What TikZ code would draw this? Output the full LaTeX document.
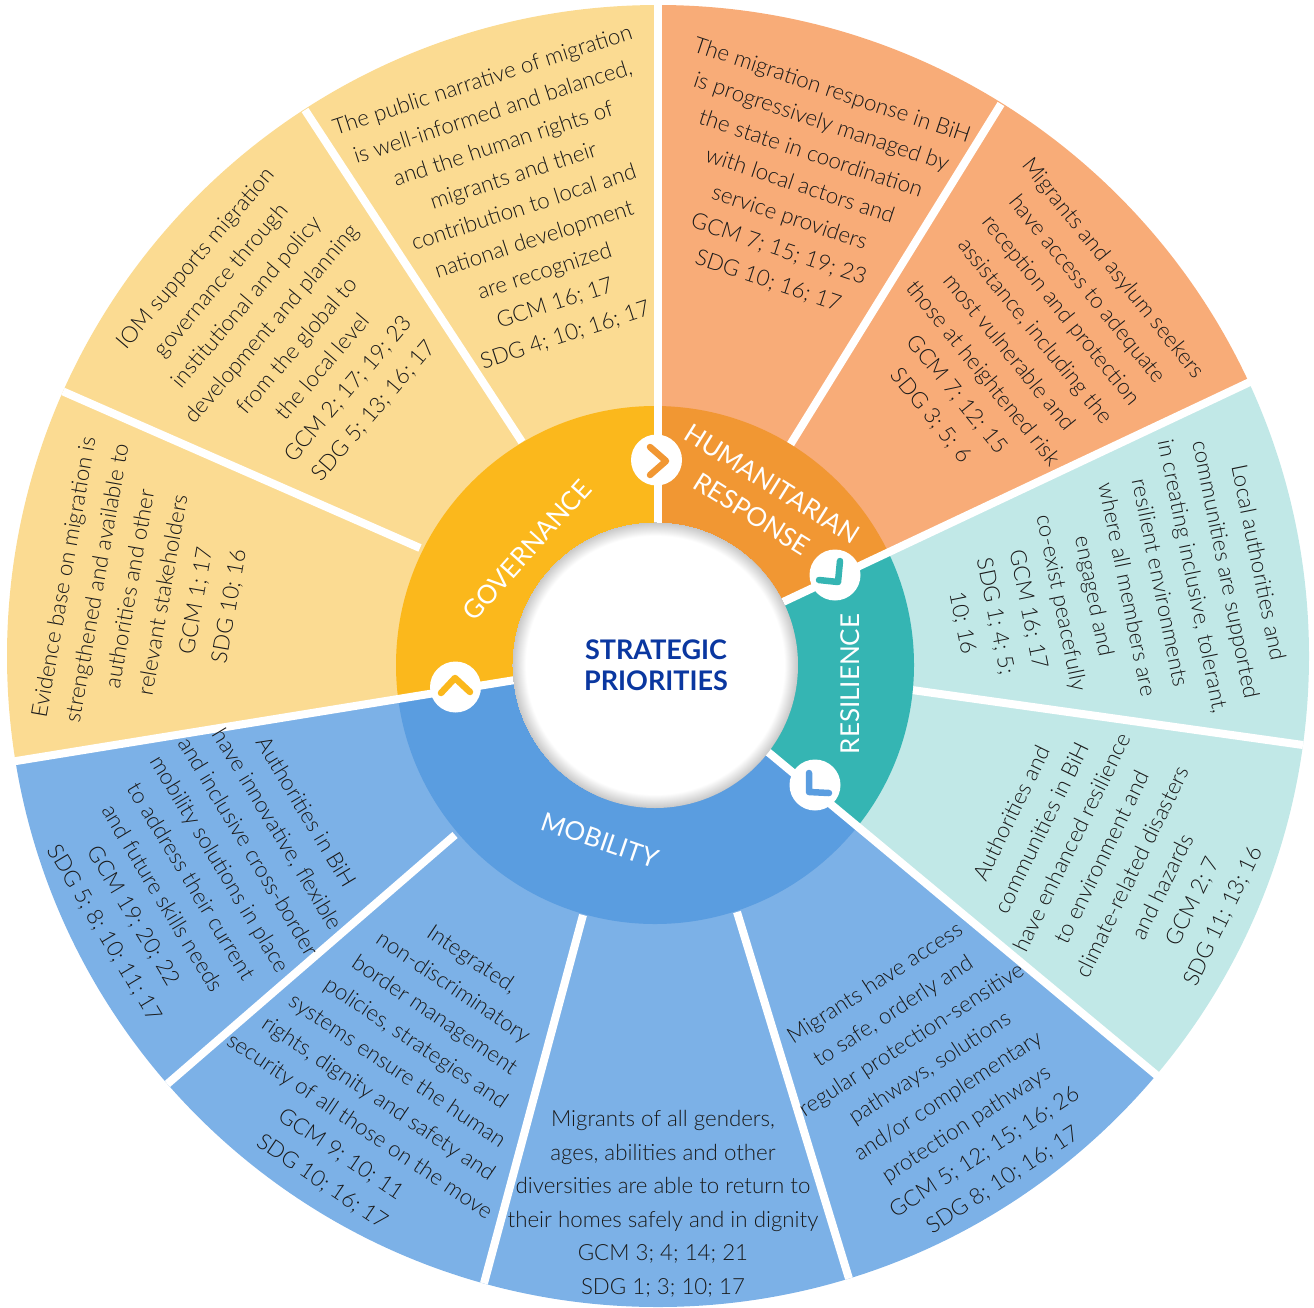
\documentclass[tikz,border=0pt]{standalone}
\usepackage{fontspec}
\setmainfont{Lato}[UprightFont=* Light,BoldFont=* Bold]
\newfontfamily\labelfont{Lato}
\definecolor{govL}{HTML}{FBDB92}\definecolor{govS}{HTML}{FBB81C}
\definecolor{humL}{HTML}{F8AC78}\definecolor{humS}{HTML}{F19733}
\definecolor{resL}{HTML}{C1E8E7}\definecolor{resS}{HTML}{35B5B3}
\definecolor{mobL}{HTML}{7CB1E7}\definecolor{mobS}{HTML}{5A9DE0}
\definecolor{ink}{HTML}{1A1A1A}\definecolor{navy}{HTML}{0A37A0}
\pgfdeclareradialshading{rimshade}{\pgfpoint{0bp}{0bp}}{color(0bp)=(white);color(22.6bp)=(white);color(25bp)=(black!22)}
\tikzset{
  body/.style={text=ink,align=center,inner sep=0pt,font=\fontsize{22.3}{33.5}\selectfont},
  ringlabel/.style={text=white,inner sep=0pt,font=\labelfont\fontsize{26}{30}\selectfont},
  gap/.style={draw=white,line width=8pt,line cap=butt},
  badge/.style={fill=white,draw=none},
  chev/.style={line width=6.5pt,line cap=round,line join=round}
}
\def\govpath{(658,665)--(658,-10)--(-10,-10)--(-10,765)--(10,762)--(515,680)--cycle}
\def\humpath{(658,665)--(658,-10)--(1330,-10)--(1330,344)--(1252,381)--(783,602)--cycle}
\def\respath{(655,665)--(783,602)--(1330,344)--(1330,1218)--(1160,1078)--(768,752)--cycle}
\def\mobpath{(655,665)--(768,752)--(1330,1218)--(1330,1330)--(-10,1330)--(-10,765)--(515,680)--cycle}
\begin{document}
\begin{tikzpicture}[x=1pt,y=-1pt]
\useasboundingbox (0,0) rectangle (1314,1307);
\coordinate (hub) at (655,665);
\coordinate (rim) at (658,656);
% outer sectors
\begin{scope}
  \clip (rim) circle[radius=651pt];
  \fill[govL] \govpath;
  \fill[humL] \humpath;
  \fill[resL] \respath;
  \fill[mobL] \mobpath;
  \draw[gap] (1001,104) -- (790,445);
  \draw[gap] (1310,746) -- (912,690);
  \draw[gap] (850,1282) -- (737,912);
  \draw[gap] (483,1287) -- (583,915);
  \draw[gap] (165,1086) -- (455,835);
  \draw[gap] (62,391) -- (420,548);
  \draw[gap] (305,110) -- (522,442);
\end{scope}
% ring
\begin{scope}
  \clip (hub) circle[radius=259pt];
  \fill[govS] \govpath;
  \fill[humS] \humpath;
  \fill[resS] \respath;
  \fill[mobS] \mobpath;
\end{scope}
% main gaps
\draw[gap] (658,0) -- (658,530);
\draw[gap] (1252,381) -- (783,602);
\draw[gap] (1160,1078) -- (768,752);
\draw[gap] (10,762) -- (515,680);
% hub disc
\shade[shading=rimshade] (hub) circle[radius=143pt];
% badges
\fill[badge] (656.5,460) circle[radius=25.5pt];
\fill[badge] (835,575) circle[radius=25.5pt];
\fill[badge] (815,785) circle[radius=25.5pt];
\fill[badge] (455.5,687) circle[radius=25.5pt];
\draw[chev,humS] (650,447) -- (666,461) -- (650,475);
\draw[chev,resS] (840,561) -- (838,582) -- (819,580);
\draw[chev,mobS] (809,773) -- (809,792) -- (829,793);
\draw[chev,govS] (441,693) -- (455,678) -- (470,692);
% centre and ring labels
\node[text=navy,align=center,inner sep=0pt,font=\labelfont\bfseries\fontsize{27}{31}\selectfont] (title) at (656,665) {STRATEGIC\\PRIORITIES};
\node[ringlabel,rotate=48] (gov) at (527,550) {GOVERNANCE};
\node[ringlabel,rotate=-32] (hum1) at (772,484) {HUMANITARIAN};
\node[ringlabel,rotate=-32] (hum2) at (752,514) {RESPONSE};
\node[ringlabel,rotate=90] (res) at (850,684) {RESILIENCE};
\node[ringlabel,rotate=-19] (mob) at (600,840) {MOBILITY};
% sector texts
\node[body,rotate=80] (t1) at (147,592) {Evidence base on migration is\\strengthened and available to\\authorities and other\\relevant stakeholders\\GCM 1; 17\\SDG 10; 16};
\node[body,rotate=49.5] (t2) at (285,335) {IOM supports migration\\governance through\\institutional and policy\\development and planning\\from the global to\\the local level\\GCM 2; 17; 19; 23\\SDG 5; 13; 16; 17};
\node[body,rotate=18] (t3) at (524,208) {The public narrative of migration\\is well-informed and balanced,\\and the human rights of\\migrants and their\\contribution to local and\\national development\\are recognized\\GCM 16; 17\\SDG 4; 10; 16; 17};
\node[body,rotate=-18.5] (t4) at (800,186) {The migration response in BiH\\is progressively managed by\\the state in coordination\\with local actors and\\service providers\\GCM 7; 15; 19; 23\\SDG 10; 16; 17};
\node[body,rotate=-51] (t5) at (1022,342) {Migrants and asylum seekers\\have access to adequate\\reception and protection\\assistance, including the\\most vulnerable and\\those at heightened risk\\GCM 7; 12; 15\\SDG 3; 5; 6};
\node[body,rotate=-78.5] (t6) at (1110,593) {Local authorities and\\communities are supported\\in creating inclusive, tolerant,\\resilient environments\\where all members are\\engaged and\\co-exist peacefully\\GCM 16; 17\\SDG 1; 4; 5;\\10; 16};
\node[body,rotate=64] (t7) at (1118,865) {Authorities and\\communities in BiH\\have enhanced resilience\\to environment and\\climate-related disasters\\and hazards\\GCM 2; 7\\SDG 11; 13; 16};
\node[body,rotate=33] (t8) at (939,1082) {Migrants have access\\to safe, orderly and\\regular protection-sensitive\\pathways, solutions\\and/or complementary\\protection pathways\\GCM 5; 12; 15; 16; 26\\SDG 8; 10; 16; 17};
\node[body] (t9) at (663,1204) {Migrants of all genders,\\ages, abilities and other\\diversities are able to return to\\their homes safely and in dignity\\GCM 3; 4; 14; 21\\SDG 1; 3; 10; 17};
\node[body,rotate=-34] (t10) at (397,1071) {Integrated,\\non-discriminatory\\border management\\policies, strategies and\\systems ensure the human\\rights, dignity and safety and\\security of all those on the move\\GCM 9; 10; 11\\SDG 10; 16; 17};
\node[body,rotate=-59] (t11) at (205,873) {Authorities in BiH\\have innovative, flexible\\and inclusive cross-border\\mobility solutions in place\\to address their current\\and future skills needs\\GCM 19; 20; 22\\SDG 5; 8; 10; 11; 17};
\end{tikzpicture}
\end{document}
